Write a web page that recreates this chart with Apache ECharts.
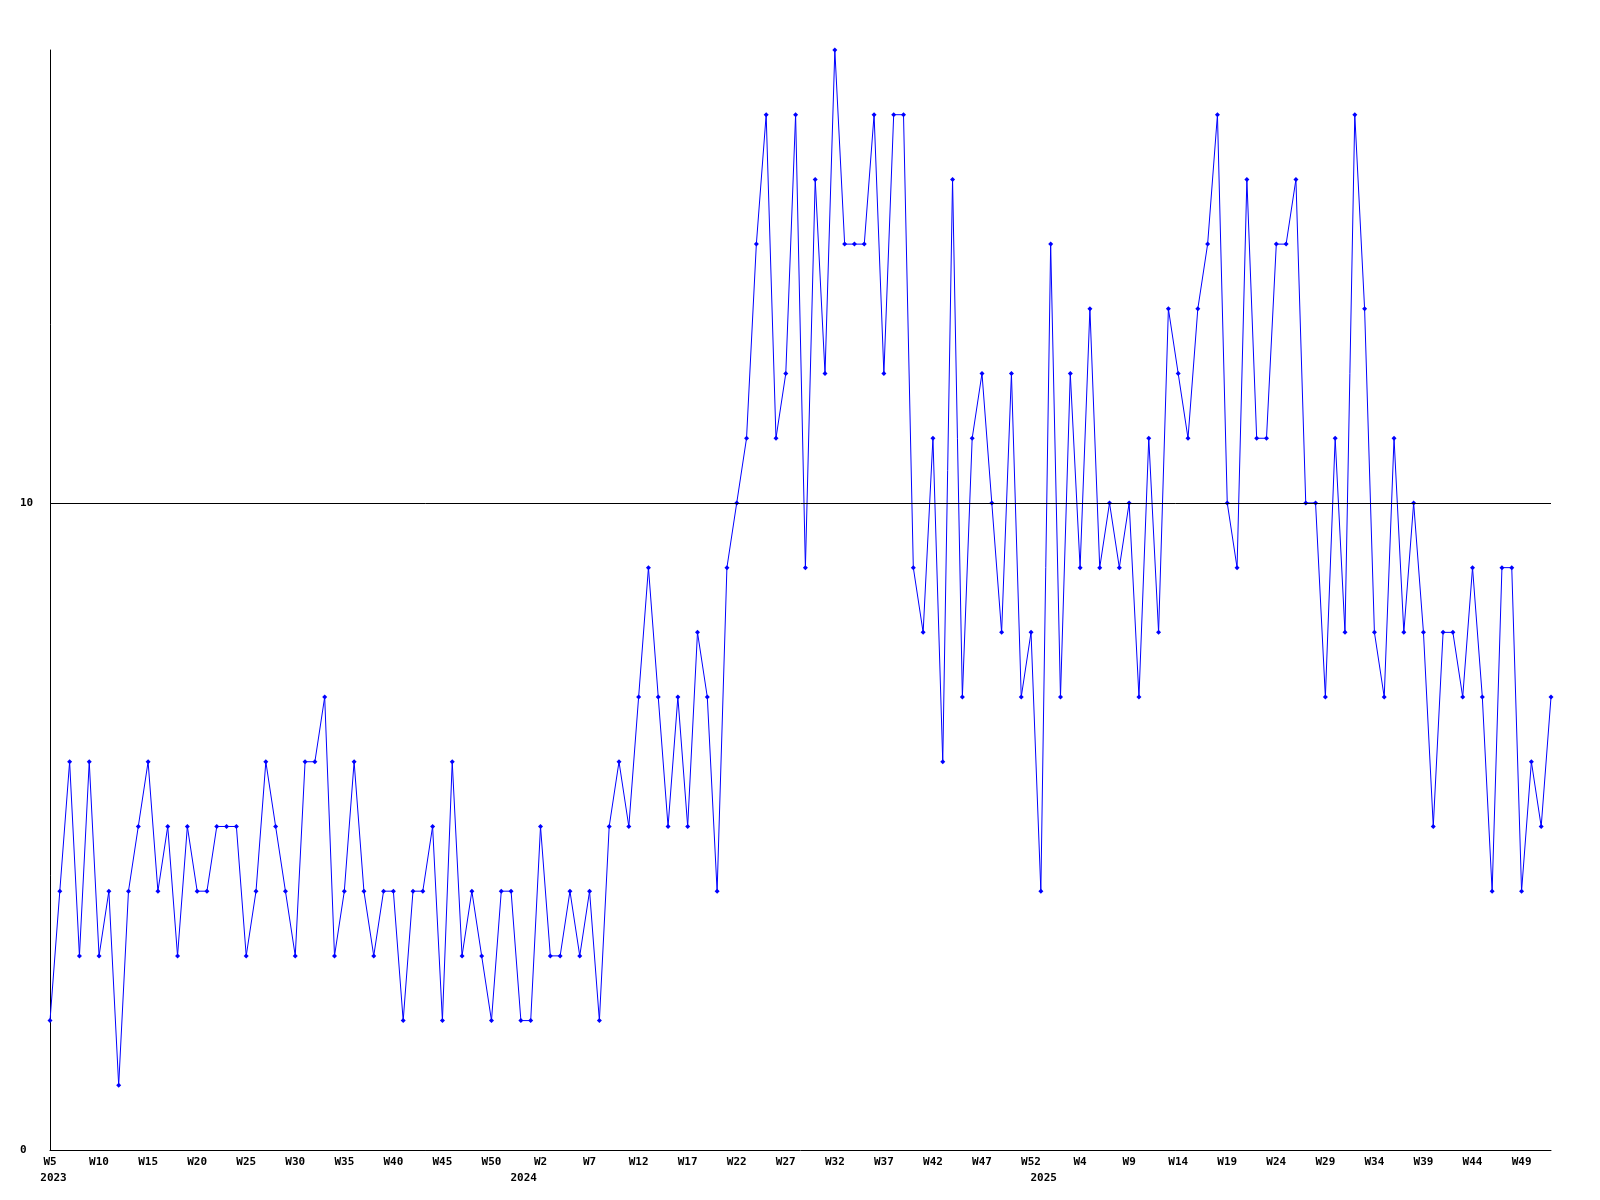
<!DOCTYPE html>
<html>
<head>
<meta charset="utf-8">
<script src="https://cdn.jsdelivr.net/npm/echarts@6/dist/echarts.min.js"></script>
<style>
  html, body { margin: 0; padding: 0; background: #fff; }
  #chart { width: 1600px; height: 1200px; }
</style>
</head>
<body>
<div id="chart"></div>
<script>
// Week ranges per year (this week numbering has W53 in 2023 and 2024)
const years = [2023, 2024, 2025];
const firstWeek = [5, 1, 1];
const lastWeek = [53, 53, 52];

// Weekly values (one per week, W5 2023 .. W52 2025)
const values2023 = [
  2, 4, 6, 3, 6, 3, 4, 1, 4, 5,
  6, 4, 5, 3, 5, 4, 4, 5, 5, 5,
  3, 4, 6, 5, 4, 3, 6, 6, 7, 3,
  4, 6, 4, 3, 4, 4, 2, 4, 4, 5,
  2, 6, 3, 4, 3, 2, 4, 4, 2
];
const values2024 = [
  2, 5, 3, 3, 4, 3, 4, 2, 5, 6,
  5, 7, 9, 7, 5, 7, 5, 8, 7, 4,
  9, 10, 11, 14, 16, 11, 12, 16, 9, 15,
  12, 17, 14, 14, 14, 16, 12, 16, 16, 9,
  8, 11, 6, 15, 7, 11, 12, 10, 8, 12,
  7, 8, 4
];
const values2025 = [
  14, 7, 12, 9, 13, 9, 10, 9, 10, 7,
  11, 8, 13, 12, 11, 13, 14, 16, 10, 9,
  15, 11, 11, 14, 14, 15, 10, 10, 7, 11,
  8, 16, 13, 8, 7, 11, 8, 10, 8, 5,
  8, 8, 7, 9, 7, 4, 9, 9, 4, 6,
  5, 7
];

const yTickValues = [0, 10];
const yMax = 17;
const refLine = 10;

// Build category labels and year-label positions
const categories = [];
const yearLabelIdx = {};
years.forEach((y, k) => {
  for (let w = firstWeek[k]; w <= lastWeek[k]; w++) {
    if (w === firstWeek[k]) yearLabelIdx[categories.length] = String(y);
    categories.push('W' + w);
  }
});
const values = values2023.concat(values2024, values2025);

const font = '"DejaVu Sans Mono", "Liberation Mono", monospace';
const chart = echarts.init(document.getElementById('chart'), null, { renderer: 'canvas' });
chart.setOption({
  animation: false,
  backgroundColor: '#ffffff',
  grid: { left: 50, right: 49, top: 50, bottom: 50, containLabel: false },
  xAxis: [
    {
      type: 'category',
      data: categories,
      boundaryGap: false,
      axisLine: { show: true, lineStyle: { color: '#000', width: 1 } },
      axisTick: { show: false },
      splitLine: { show: false },
      axisLabel: {
        interval: 4,
        margin: 7,
        color: '#000',
        fontFamily: font,
        fontWeight: 'bold',
        fontSize: 11
      }
    },
    {
      type: 'category',
      data: categories,
      boundaryGap: false,
      position: 'bottom',
      axisLine: { show: false },
      axisTick: { show: false },
      splitLine: { show: false },
      axisLabel: {
        interval: (idx) => yearLabelIdx[idx] !== undefined,
        formatter: (v, idx) => {
          const y = yearLabelIdx[idx];
          if (y === undefined) return '';
          return idx === 0 ? '{a|' + y + '}' : '{b|' + y + '}';
        },
        margin: 23,
        color: '#000',
        fontFamily: font,
        fontWeight: 'bold',
        fontSize: 11,
        rich: {
          a: { fontFamily: font, fontWeight: 'bold', fontSize: 11, color: '#000', padding: [0, 0, 0, 7] },
          b: { fontFamily: font, fontWeight: 'bold', fontSize: 11, color: '#000', padding: [0, 14, 0, 0] }
        }
      }
    }
  ],
  yAxis: {
    type: 'value',
    min: 0,
    max: yMax,
    interval: 10,
    axisLine: { show: true, lineStyle: { color: '#000', width: 1 } },
    axisTick: { show: false },
    splitLine: { show: false },
    axisLabel: {
      customValues: yTickValues,
      align: 'left',
      margin: 30,
      color: '#000',
      fontFamily: font,
      fontWeight: 'bold',
      fontSize: 11
    }
  },
  series: [
    {
      type: 'line',
      z: 1,
      data: [],
      silent: true,
      markLine: {
        silent: true,
        symbol: ['none', 'none'],
        label: { show: false },
        lineStyle: { color: '#000', width: 1, type: 'solid' },
        emphasis: { disabled: true },
        data: [{ yAxis: refLine }]
      }
    },
    {
      type: 'line',
      z: 3,
      data: values,
      xAxisIndex: 0,
      showSymbol: true,
      showAllSymbol: true,
      symbol: 'diamond',
      symbolSize: 5,
      itemStyle: { color: '#0000ff' },
      lineStyle: { color: '#0000ff', width: 1 },
      emphasis: { disabled: true }
    }
  ]
});
</script>
</body>
</html>
